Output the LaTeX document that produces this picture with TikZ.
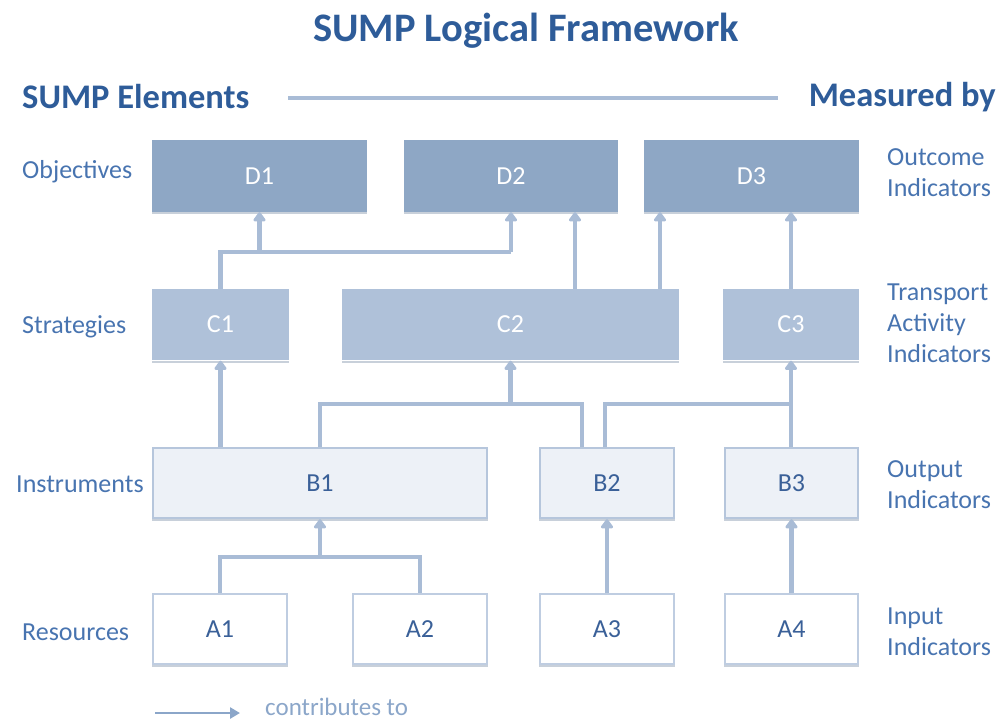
\documentclass[tikz,border=0pt]{standalone}
\usepackage{fontspec}
\setmainfont{Carlito}
\usetikzlibrary{arrows.meta,calc}

\definecolor{titleblue}{HTML}{2E5C99}
\definecolor{labelblue}{HTML}{4874B0}
\definecolor{boxtext}{HTML}{3A6098}
\definecolor{dfill}{HTML}{8EA7C5}
\definecolor{cfill}{HTML}{AFC1D9}
\definecolor{bfill}{HTML}{EDF1F7}
\definecolor{bdraw}{HTML}{B6C6DC}
\definecolor{adraw}{HTML}{BFCDE1}
\definecolor{linec}{HTML}{A9BCD6}
\definecolor{legendc}{HTML}{8BA6C9}
\definecolor{shadowc}{HTML}{C8D0DA}

\tikzset{
  txt/.style={font=\fontsize{26}{31}\selectfont},
  sidelabel/.style={font=\fontsize{26}{31}\selectfont, text=labelblue, anchor=west, align=left, inner sep=0pt},
  elem/.style={txt, minimum height=70pt, inner sep=0pt, line width=1.4pt},
  dbox/.style={elem, fill=dfill, draw=dfill, text=white},
  cbox/.style={elem, fill=cfill, draw=cfill, text=white},
  bbox/.style={elem, fill=bfill, draw=bdraw, text=boxtext},
  abox/.style={elem, fill=white, draw=adraw, text=boxtext},
  conn/.style={draw=linec, line width=4.4pt},
  arr/.style={conn, -{Triangle[width=14pt,length=10pt,round]}, shorten >=0.5pt},
  shadowline/.style={draw=shadowc, line width=1.8pt}
}

\begin{document}
\begin{tikzpicture}[x=1pt,y=-1pt]
\useasboundingbox (0,0) rectangle (998,721);

% headings
\node[font=\fontsize{40.5}{46}\selectfont\bfseries, text=titleblue] (title) at (526,31) {SUMP Logical Framework};
\node[font=\fontsize{34.5}{40}\selectfont\bfseries, text=titleblue, anchor=west, inner sep=0pt] (elements) at (22,97) {SUMP Elements};
\node[font=\fontsize{34.5}{40}\selectfont\bfseries, text=titleblue, anchor=east, inner sep=0pt] (measured) at (996,97) {Measured by};
\draw[draw=linec, line width=4.5pt] (288,98) -- (778,98);

% objectives
\node[dbox, minimum width=213pt] (D1) at (259.5,176) {D1};
\node[dbox, minimum width=212pt] (D2) at (511,176) {D2};
\node[dbox, minimum width=213pt] (D3) at (751.5,176) {D3};

% strategies
\node[cbox, minimum width=135pt] (C1) at (220.5,324.5) {C1};
\node[cbox, minimum width=335pt] (C2) at (510.5,324.5) {C2};
\node[cbox, minimum width=134pt] (C3) at (791,324.5) {C3};

% instruments
\node[bbox, minimum width=334pt] (B1) at (320,483) {B1};
\node[bbox, minimum width=134pt] (B2) at (607,483) {B2};
\node[bbox, minimum width=133pt] (B3) at (791.5,483) {B3};

% resources
\node[abox, minimum width=134pt] (A1) at (220,629) {A1};
\node[abox, minimum width=134pt] (A2) at (420,629) {A2};
\node[abox, minimum width=134pt] (A3) at (607,629) {A3};
\node[abox, minimum width=133pt] (A4) at (791.5,629) {A4};

% soft bottom edges
\foreach \n in {D1,D2,D3,C1,C2,C3,B1,B2,B3,A1,A2,A3,A4}
  \draw[shadowline] ([yshift=-1.5pt]\n.south west) -- ([yshift=-1.5pt]\n.south east);

% row labels, left
\node[sidelabel] (lobj) at (22,172) {Objectives};
\node[sidelabel] (lstr) at (22,327) {Strategies};
\node[sidelabel] (lins) at (16,484) {Instruments};
\node[sidelabel] (lres) at (22,632) {Resources};

% row labels, right
\node[sidelabel] (rout) at (887,173) {Outcome\\Indicators};
\node[sidelabel] (rtra) at (887,323) {Transport\\Activity\\Indicators};
\node[sidelabel] (rop) at (887,485) {Output\\Indicators};
\node[sidelabel] (rin) at (887,632) {Input\\Indicators};

% junction points
\coordinate (jA) at (320,557);
\coordinate (jB) at (510.5,404);
\coordinate (jC) at (791,404);
\coordinate (jD) at (511,252);

% resources -> instruments
\draw[conn] (A1.north) |- (jA) -| (A2.north);
\draw[arr] (jA) -- (B1.south);
\draw[arr] (A3.north) -- (B2.south);
\draw[arr] (A4.north) -- (B3.south);

% instruments -> strategies
\draw[arr] (B1.north -| C1.south) -- (C1.south);
\draw[conn] (B1.north) |- (jB) -| ([xshift=-25pt]B2.north);
\draw[arr] (jB) -- (C2.south);
\draw[conn] ([xshift=-2pt]B2.north) |- (jC);
\draw[arr] (B3.north -| C3.south) -- (C3.south);

% strategies -> objectives
\draw[conn] (C1.north) |- (jD);
\draw[arr] (jD) -- (D2.south);
\draw[arr] (D1.south |- jD) -- (D1.south);
\draw[arr] (C2.north -| 575,0) -- (D2.south -| 575,0);
\draw[arr] (C2.north -| 660,0) -- (D3.south -| 660,0);
\draw[arr] (C3.north) -- (D3.south -| C3.north);

% legend
\coordinate (legA) at (155,713);
\coordinate (legB) at (240,713);
\draw[draw=legendc, line width=2.6pt, -{Triangle[width=11pt,length=10pt]}] (legA) -- (legB);
\node[txt, font=\fontsize{25}{31}\selectfont, text=legendc, anchor=west, inner sep=0pt] (legtext) at (265,707) {contributes to};
\end{tikzpicture}
\end{document}
